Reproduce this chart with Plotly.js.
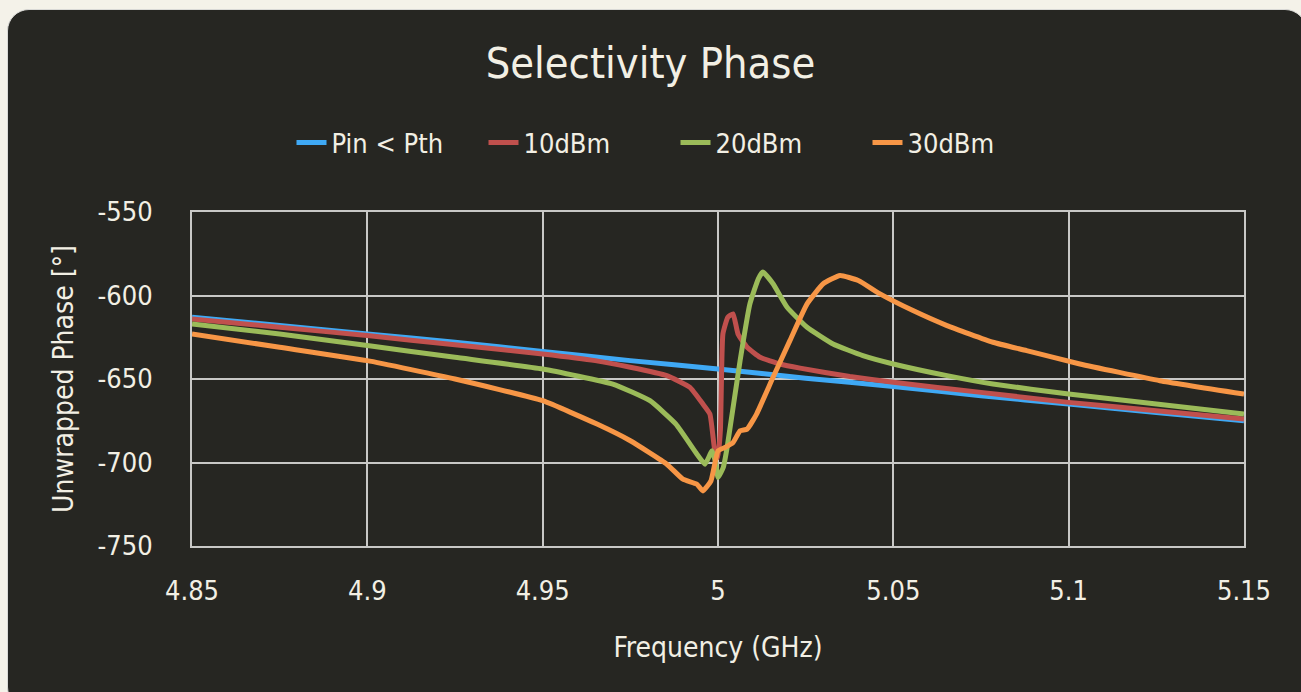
<!DOCTYPE html>
<html>
<head>
<meta charset="utf-8">
<script src="https://cdn.plot.ly/plotly-3.0.1.min.js"></script>
<style>
  html, body { margin: 0; padding: 0; background: #f4f2e9; width: 1301px; height: 692px; overflow: hidden; }
  #card { position: absolute; left: 7px; top: 9px; width: 1300px; height: 700px; background: #262622;
          border: 1.5px solid #d9d9d6; border-radius: 22px; box-sizing: border-box; }
  #chart { position: absolute; left: 0; top: 0; width: 1301px; height: 692px; }
</style>
</head>
<body>
<div id="card"></div>
<div id="chart"></div>
<script>
// Series names
const seriesNames = ["Pin < Pth", "10dBm", "20dBm", "30dBm"];

// Y tick values and labels (hyphen minus as in the reference)
const yTickVals = [-750, -700, -650, -600, -550];
const yTickText = ["-750", "-700", "-650", "-600", "-550"];

// Pin < Pth (blue)
const freqBlue  = [4.85, 4.875, 4.9, 4.925, 4.95, 4.975, 5.0, 5.025, 5.05, 5.075, 5.1, 5.125, 5.15];
const phaseBlue = [-613, -618, -623, -628, -633.5, -639, -644, -649.5, -654.5, -660, -665, -670, -675];

// 10dBm (red)
const freqRed  = [4.85, 4.875, 4.9, 4.925, 4.95, 4.965, 4.975, 4.9854, 4.992, 4.9957, 4.9977, 4.9991, 5.0, 5.0007, 5.0014, 5.0028, 5.0043, 5.0057, 5.0083, 5.012, 5.0177, 5.0234, 5.0376, 5.05, 5.075, 5.1, 5.125, 5.15];
const phaseRed = [-614, -619, -624, -629.5, -635, -639, -643, -648, -655, -665, -671, -693, -697, -680, -623, -613, -611, -623, -631, -637, -641, -643.5, -648.5, -652, -658, -664, -669, -674];

// 20dBm (green)
const freqGreen  = [4.85, 4.875, 4.9, 4.925, 4.95, 4.97, 4.9806, 4.988, 4.994, 4.9963, 4.9983, 4.9993, 5.0, 5.0015, 5.0026, 5.0063, 5.0091, 5.0115, 5.0128, 5.0157, 5.0197, 5.0254, 5.0328, 5.0413, 5.05, 5.0653, 5.0784, 5.1, 5.125, 5.15];
const phaseGreen = [-617, -623, -630, -637, -644, -653, -663, -677, -695, -701, -693, -700, -709, -703, -691, -639, -605, -590, -586, -593, -607, -619, -629, -636, -641, -648, -653, -659, -665, -671];

// 30dBm (orange)
const freqOrange  = [4.85, 4.875, 4.9, 4.925, 4.95, 4.9655, 4.975, 4.9854, 4.99, 4.994, 4.9957, 4.998, 5.0, 5.002, 5.0043, 5.0063, 5.0083, 5.011, 5.0157, 5.0205, 5.0254, 5.03, 5.0348, 5.04, 5.0462, 5.0556, 5.0653, 5.0784, 5.088, 5.1032, 5.126, 5.15];
const phaseOrange = [-623, -631, -639, -650, -663, -677, -687, -701, -710, -713, -717, -711, -693, -691, -688, -681, -680, -671, -649, -627, -605, -593, -588, -591, -599, -609, -618, -628, -633, -641, -651, -659];

const colors = ["#3fa9f5", "#c0504d", "#9bbb59", "#f79646"];
const textColor = "#f2efe4";
const gridColor = "#c8c8c6";
const fontFamily = "'DejaVu Sans Condensed', 'DejaVu Sans', sans-serif";

const xs = [freqBlue, freqRed, freqGreen, freqOrange];
const ys = [phaseBlue, phaseRed, phaseGreen, phaseOrange];

const traces = seriesNames.map((n, i) => ({
  x: xs[i], y: ys[i], name: n, type: "scatter", mode: "lines",
  line: { color: colors[i], width: 5, shape: "spline", smoothing: 0.4 }
}));

const layout = {
  width: 1301, height: 692,
  paper_bgcolor: "rgba(0,0,0,0)", plot_bgcolor: "rgba(0,0,0,0)",
  margin: { l: 192, r: 57, t: 212, b: 146 },
  font: { family: fontFamily, color: textColor, size: 24 },
  title: { text: "Selectivity Phase", font: { size: 43, color: textColor, family: fontFamily },
           x: 0.5, xref: "container", xanchor: "center", y: 1 - 63/692, yref: "container", yanchor: "middle" },
  showlegend: true,
  legend: { orientation: "h", x: 0.5 + 25/1301, xref: "container", xanchor: "center",
            y: 1 - 143/692, yref: "container", yanchor: "middle", entrywidth: 147, entrywidthmode: "pixels",
            font: { size: 27, color: textColor }, bgcolor: "rgba(0,0,0,0)", traceorder: "normal" },
  xaxis: {
    range: [4.85, 5.15], dtick: 0.05, tick0: 4.85,
    showgrid: true, gridcolor: gridColor, gridwidth: 2,
    showline: true, linecolor: gridColor, linewidth: 2, mirror: true,
    zeroline: false, ticks: "", ticklabelstandoff: 20,
    tickfont: { size: 27, color: textColor },
    title: { text: "Frequency (GHz)", font: { size: 28, color: textColor }, standoff: 32 }
  },
  yaxis: {
    range: [-750, -550], tickmode: "array", tickvals: yTickVals, ticktext: yTickText,
    showgrid: true, gridcolor: gridColor, gridwidth: 2,
    showline: true, linecolor: gridColor, linewidth: 2, mirror: true,
    zeroline: false, ticks: "", ticklabelstandoff: 32,
    tickfont: { size: 27, color: textColor },
    title: { text: "Unwrapped Phase [°]", font: { size: 28, color: textColor }, standoff: 16 }
  }
};

Plotly.newPlot("chart", traces, layout, { displayModeBar: false, staticPlot: true });
</script>
</body>
</html>
